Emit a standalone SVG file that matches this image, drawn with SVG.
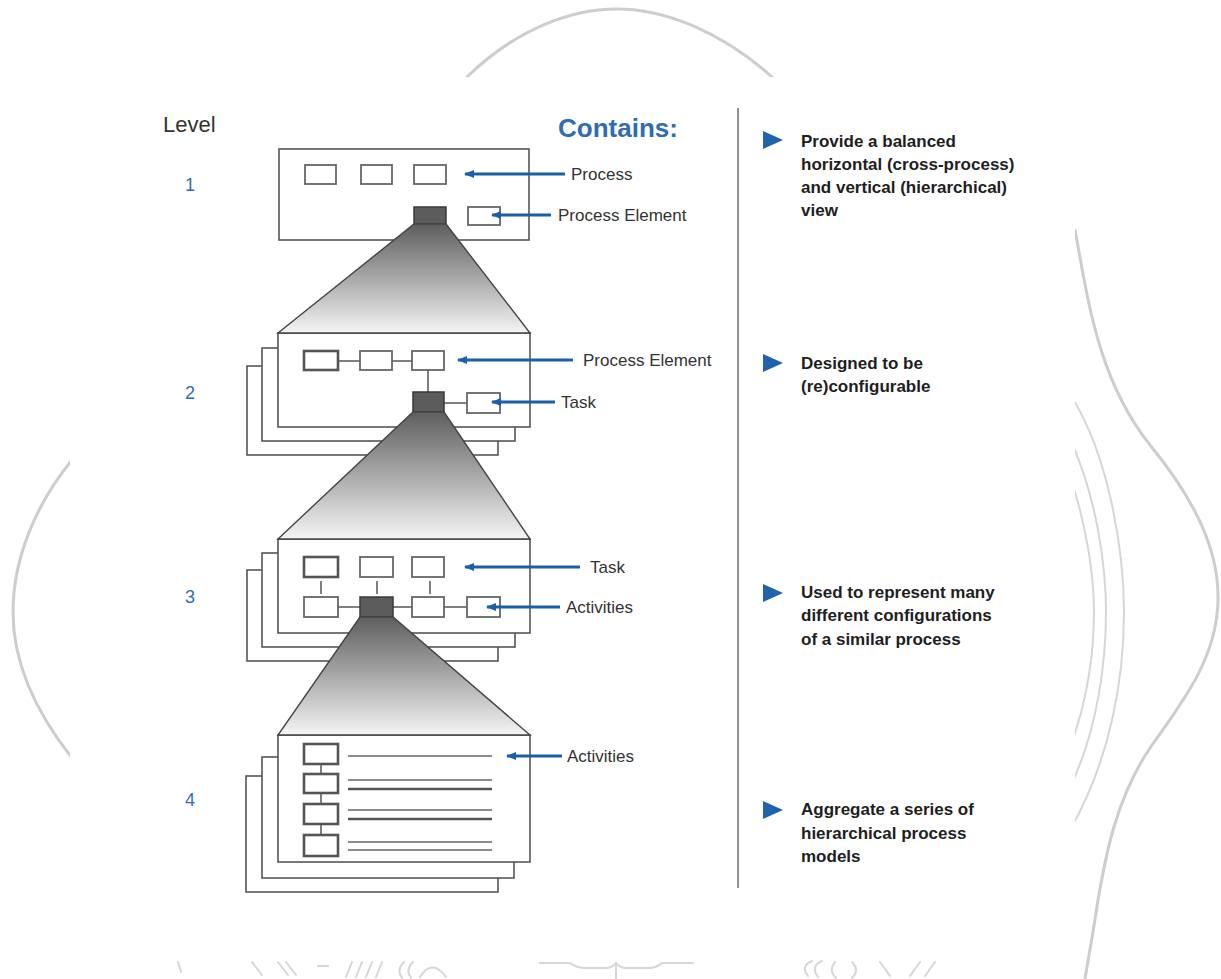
<svg xmlns="http://www.w3.org/2000/svg" width="1221" height="979" viewBox="0 0 1221 979">
  <style>
    .deco { fill: none; stroke: #cdcdcd; stroke-width: 3; stroke-linecap: round; }
    .deco-thin { fill: none; stroke: #d6d6d6; stroke-width: 2; stroke-linecap: round; }
    .frame { fill: #ffffff; stroke: #555555; stroke-width: 1.6; }
    .cell { fill: #ffffff; stroke: #666666; stroke-width: 1.8; }
    .cell-strong { fill: #ffffff; stroke: #555555; stroke-width: 2.6; }
    .focus { fill: #5c5c5c; stroke: #3a3a3a; stroke-width: 1.5; }
    .link { stroke: #555555; stroke-width: 1.5; fill: none; }
    .rule { stroke: #666666; stroke-width: 1.3; }
    .rule-bold { stroke: #555555; stroke-width: 2.6; }
    .zoom { fill: url(#zoomShade); stroke: #444444; stroke-width: 1.4; }
    .arrow { stroke: #1c5fa8; stroke-width: 3.2; fill: none; marker-end: url(#head); }
    .label { font-family: "Liberation Sans", Arial, sans-serif; font-size: 17px; fill: #333333; }
    .levnum { font-family: "Liberation Sans", Arial, sans-serif; font-size: 18px; fill: #2f6db2; text-anchor: middle; }
    .note { font-family: "Liberation Sans", Arial, sans-serif; font-size: 17px; font-weight: bold; fill: #1e1e1e; }
    .bullet { fill: #1f63ad; }
  </style>
  <defs>
    <linearGradient id="zoomShade" x1="0" y1="0" x2="0" y2="1">
      <stop offset="0" stop-color="#5e5e5e"/>
      <stop offset="0.5" stop-color="#a9a9a9"/>
      <stop offset="1" stop-color="#f5f5f5"/>
    </linearGradient>
    <marker id="head" viewBox="0 0 10 8" refX="9" refY="4" markerWidth="11" markerHeight="8" markerUnits="userSpaceOnUse" orient="auto">
      <path d="M0,0 L10,4 L0,8 z" fill="#1c5fa8"/>
    </marker>
  </defs>

  <rect width="1221" height="979" fill="#ffffff"/>

  <!-- decorative background strokes -->
  <g id="background">
    <path class="deco" d="M467 77 C515 30 570 9 617 9 C665 9 722 32 772 77"/>
    <path class="deco" d="M72 460 C35 505 13 560 13 612 C13 665 38 715 72 758"/>
    <path class="deco" d="M1075 230 C1088 300 1098 380 1150 445 C1195 500 1219 550 1218 600 C1217 660 1180 705 1150 748 C1115 800 1105 860 1098 900 C1092 940 1088 960 1085 979"/>
    <path class="deco-thin" d="M1070 394 C1112 460 1124 560 1124 612 C1124 680 1110 760 1070 830"/>
    <path class="deco-thin" d="M1070 439 C1098 500 1106 570 1106 612 C1106 660 1098 730 1070 787"/>
    <path class="deco-thin" d="M1070 476 C1088 530 1094 580 1094 612 C1094 650 1088 700 1070 747"/>
    <g class="deco-thin">
      <path d="M178 962 L181 972"/>
      <path d="M252 962 L262 975"/>
      <path d="M278 962 L288 975 M286 962 L296 975"/>
      <path d="M318 966 L328 966"/>
      <path d="M352 962 L346 977 M362 962 L356 977 M372 962 L366 977 M382 962 L376 977"/>
      <path d="M404 962 Q396 970 402 978 M413 962 Q405 970 411 978"/>
      <path d="M420 977 Q432 958 446 977"/>
      <path d="M540 963 H570 Q576 968 586 968 H608 Q614 966 616 963 M616 963 V979 M616 963 Q618 966 624 968 H648 Q657 968 662 963 H693"/>
      <path d="M808 976 Q800 966 812 961 M818 977 Q810 966 822 961 M835 962 Q828 970 836 978 M852 962 Q860 970 852 978 M880 962 L890 976 M910 976 L920 962 M925 976 L935 962"/>
    </g>
  </g>

  <!-- main panel -->
  <rect x="70" y="77" width="1005" height="873" fill="#ffffff"/>

  <!-- column headers -->
  <g id="headers">
    <text x="163" y="132" font-family="Liberation Sans, Arial, sans-serif" font-size="22" fill="#333333">Level</text>
    <text x="558" y="137" font-family="Liberation Sans, Arial, sans-serif" font-size="26" font-weight="bold" fill="#2f6db2">Contains:</text>
  </g>

  <!-- level numbers -->
  <g id="level-numbers">
    <text class="levnum" x="190" y="191">1</text>
    <text class="levnum" x="190" y="399">2</text>
    <text class="levnum" x="190" y="603">3</text>
    <text class="levnum" x="190" y="806">4</text>
  </g>

  <!-- level 1: processes and a process element -->
  <g id="level-1">
    <rect class="frame" x="279" y="149" width="250" height="91"/>
    <rect class="cell" x="305" y="165" width="31" height="19"/>
    <rect class="cell" x="361" y="165" width="31" height="19"/>
    <rect class="cell" x="414" y="165" width="32" height="19"/>
    <rect class="focus" x="414" y="207" width="32" height="17"/>
    <rect class="cell" x="468" y="207" width="32" height="18"/>
  </g>

  <!-- level 2: process elements and a task -->
  <g id="level-2">
    <rect class="frame" x="247" y="366" width="251" height="89"/>
    <rect class="frame" x="262" y="348" width="253" height="93"/>
    <rect class="frame" x="278" y="333" width="252" height="94"/>
    <path class="link" d="M338 361 H360 M392 361 H412 M428 370 V392 M444 403 H467"/>
    <rect class="cell-strong" x="304" y="351" width="34" height="19"/>
    <rect class="cell" x="360" y="351" width="32" height="19"/>
    <rect class="cell" x="412" y="351" width="32" height="19"/>
    <rect class="focus" x="413" y="392" width="31" height="20"/>
    <rect class="cell" x="467" y="393" width="33" height="20"/>
  </g>

  <!-- level 3: tasks and activities -->
  <g id="level-3">
    <rect class="frame" x="247" y="570" width="251" height="91"/>
    <rect class="frame" x="262" y="553" width="253" height="94"/>
    <rect class="frame" x="278" y="539" width="252" height="94"/>
    <path class="link" d="M321 581 V594 M377 581 V594 M430 581 V594 M338 607 H360 M393 607 H412 M444 607 H467"/>
    <rect class="cell-strong" x="304" y="557" width="34" height="20"/>
    <rect class="cell" x="360" y="557" width="33" height="20"/>
    <rect class="cell" x="412" y="557" width="32" height="20"/>
    <rect class="cell" x="304" y="597" width="34" height="20"/>
    <rect class="focus" x="360" y="597" width="33" height="20"/>
    <rect class="cell" x="412" y="597" width="32" height="20"/>
    <rect class="cell" x="467" y="597" width="33" height="20"/>
  </g>

  <!-- level 4: activity list -->
  <g id="level-4">
    <rect class="frame" x="246" y="776" width="252" height="116"/>
    <rect class="frame" x="262" y="757" width="252" height="121"/>
    <rect class="frame" x="278" y="735" width="252" height="127"/>
    <path class="link" d="M321 764 V774 M321 793 V804 M321 824 V835"/>
    <rect class="cell-strong" x="304" y="744" width="34" height="20"/>
    <rect class="cell-strong" x="304" y="774" width="34" height="19"/>
    <rect class="cell-strong" x="304" y="804" width="34" height="20"/>
    <rect class="cell-strong" x="304" y="835" width="34" height="21"/>
    <line class="rule" x1="348" y1="756" x2="492" y2="756"/>
    <line class="rule" x1="348" y1="780" x2="492" y2="780"/>
    <line class="rule-bold" x1="348" y1="789" x2="492" y2="789"/>
    <line class="rule" x1="348" y1="810" x2="492" y2="810"/>
    <line class="rule-bold" x1="348" y1="819" x2="492" y2="819"/>
    <line class="rule" x1="348" y1="842" x2="492" y2="842"/>
    <line class="rule" x1="348" y1="850" x2="492" y2="850"/>
  </g>

  <!-- drill-down projections between levels -->
  <g id="projections">
    <polygon class="zoom" points="414,224 446,224 530,333 278,333"/>
    <polygon class="zoom" points="413,412 444,412 530,539 278,539"/>
    <polygon class="zoom" points="360,617 393,617 530,735 278,735"/>
  </g>

  <!-- callout arrows -->
  <g id="connectors">
    <line class="arrow" x1="565" y1="174" x2="465" y2="174"/>
    <line class="arrow" x1="551" y1="215" x2="492" y2="215"/>
    <line class="arrow" x1="573" y1="360" x2="458" y2="360"/>
    <line class="arrow" x1="555" y1="402" x2="492" y2="402"/>
    <line class="arrow" x1="580" y1="567" x2="465" y2="567"/>
    <line class="arrow" x1="560" y1="607" x2="487" y2="607"/>
    <line class="arrow" x1="562" y1="756" x2="507" y2="756"/>
  </g>

  <!-- callout labels -->
  <g id="labels">
    <text class="label" x="571" y="180">Process</text>
    <text class="label" x="558" y="221">Process Element</text>
    <text class="label" x="583" y="366">Process Element</text>
    <text class="label" x="561" y="408">Task</text>
    <text class="label" x="590" y="573">Task</text>
    <text class="label" x="566" y="613">Activities</text>
    <text class="label" x="567" y="762">Activities</text>
  </g>

  <!-- divider -->
  <line x1="738" y1="108" x2="738" y2="888" stroke="#555555" stroke-width="1.3"/>

  <!-- notes column -->
  <g id="notes">
    <polygon class="bullet" points="763,131 783,140 763,149"/>
    <text class="note" x="801"><tspan x="801" y="147">Provide a balanced</tspan><tspan x="801" y="170">horizontal (cross-process)</tspan><tspan x="801" y="193">and vertical (hierarchical)</tspan><tspan x="801" y="216">view</tspan></text>

    <polygon class="bullet" points="763,354 783,363 763,372"/>
    <text class="note" x="801"><tspan x="801" y="369">Designed to be</tspan><tspan x="801" y="392">(re)configurable</tspan></text>

    <polygon class="bullet" points="763,584 783,593 763,602"/>
    <text class="note" x="801"><tspan x="801" y="598">Used to represent many</tspan><tspan x="801" y="621">different configurations</tspan><tspan x="801" y="645">of a similar process</tspan></text>

    <polygon class="bullet" points="763,801 783,810 763,819"/>
    <text class="note" x="801"><tspan x="801" y="815">Aggregate a series of</tspan><tspan x="801" y="839">hierarchical process</tspan><tspan x="801" y="862">models</tspan></text>
  </g>
</svg>
